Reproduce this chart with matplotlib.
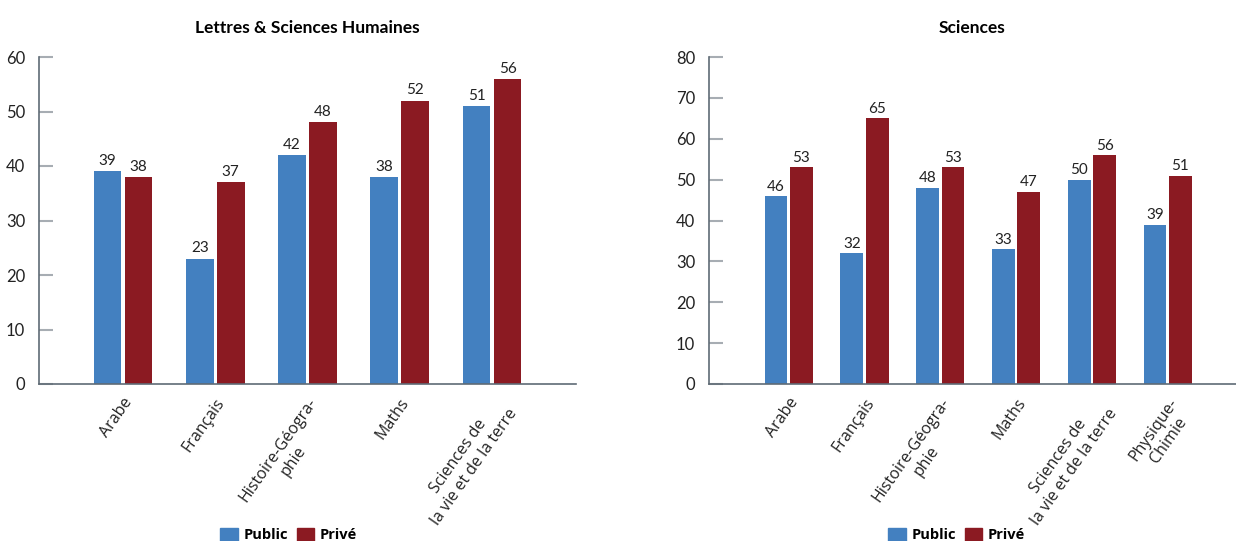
import numpy as np
import matplotlib
matplotlib.use("Agg")
import matplotlib.pyplot as plt
from matplotlib.patches import Patch

plt.rcParams["font.family"] = ["Lato", "DejaVu Sans"]

# --- données
cats_lsh = ["Arabe", "Français", "Histoire-Géogra-\nphie", "Maths", "Sciences de\nla vie et de la terre"]
public_lsh = [39, 23, 42, 38, 51]
prive_lsh = [38, 37, 48, 52, 56]

cats_sci = ["Arabe", "Français", "Histoire-Géogra-\nphie", "Maths", "Sciences de\nla vie et de la terre", "Physique-\nChimie"]
public_sci = [46, 32, 48, 33, 50, 39]
prive_sci = [53, 65, 53, 47, 56, 51]

BLUE, RED = "#4380c0", "#8b1a22"
SPINE, TICK = "#5f6b75", "#a7adb3"


def draw(ax, title, cats, pub, pri, ymax, xlim, leg_x):
    x = np.arange(len(cats))
    w, gap = 0.30, 0.035
    b1 = ax.bar(x - (w + gap) / 2, pub, w, color=BLUE)
    b2 = ax.bar(x + (w + gap) / 2, pri, w, color=RED)
    for bars in (b1, b2):
        for b in bars:
            ax.text(b.get_x() + b.get_width() / 2, b.get_height() + 0.6, f"{b.get_height():.0f}",
                    ha="center", va="bottom", fontsize=11, color="#222222")
    ax.set_ylim(0, ymax)
    ax.set_xlim(*xlim)
    ax.set_yticks(np.arange(0, ymax + 1, 10))
    ax.tick_params(axis="y", direction="in", length=10, width=1.5, color=TICK,
                   labelsize=12, pad=10, labelcolor="#222222")
    ax.set_xticks(x)
    ax.set_xticklabels(cats, rotation=55, ha="right", rotation_mode="anchor",
                       multialignment="center", fontsize=11.5, color="#222222",
                       family=["Open Sans", "DejaVu Sans"])
    ax.tick_params(axis="x", length=0, pad=8)
    for s in ("top", "right"):
        ax.spines[s].set_visible(False)
    ax.spines["left"].set_color(SPINE)
    ax.spines["bottom"].set_color(SPINE)
    ax.spines["left"].set_linewidth(1.2)
    ax.spines["bottom"].set_linewidth(1.2)
    ax.set_title(title, fontsize=12.5, fontweight="bold", pad=17)
    handles = [Patch(color=BLUE, label="Public"), Patch(color=RED, label="Privé")]
    leg = ax.legend(handles=handles, loc="center", bbox_to_anchor=(leg_x, -0.462), ncol=2,
                    frameon=False, fontsize=10.5, handlelength=1.2, handleheight=1.0,
                    columnspacing=0.6, handletextpad=0.4, borderpad=0.1)
    for t in leg.get_texts():
        t.set_fontweight("bold")
        t.set_family(["Open Sans", "DejaVu Sans"])


fig = plt.figure(figsize=(12.36, 5.41), dpi=100)
ax1 = fig.add_axes([39 / 1236, 1 - 384 / 541, 537 / 1236, 327 / 541])
ax2 = fig.add_axes([709 / 1236, 1 - 384 / 541, 527 / 1236, 327 / 541])

draw(ax1, "Lettres & Sciences Humaines", cats_lsh, public_lsh, prive_lsh, 60, (-0.91, 4.91), 0.465)
draw(ax2, "Sciences", cats_sci, public_sci, prive_sci, 80, (-1.05, 5.9), 0.47)

fig.savefig("out.png", dpi=100)
